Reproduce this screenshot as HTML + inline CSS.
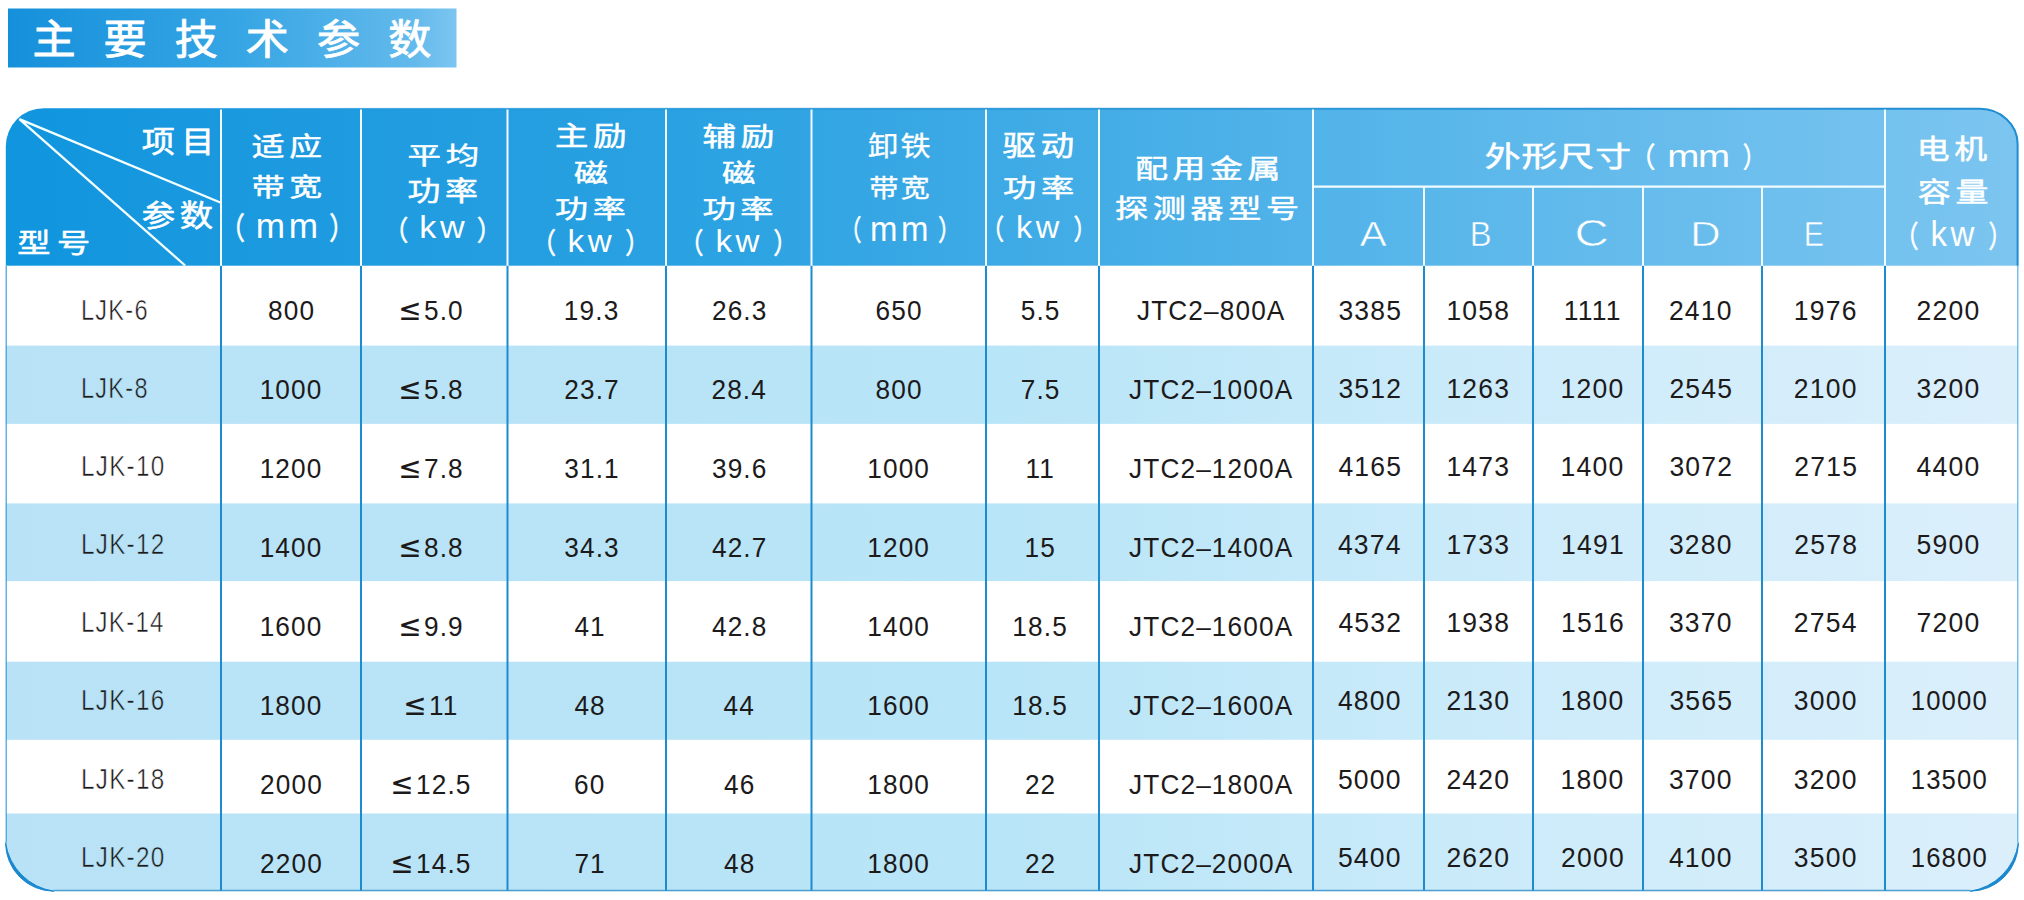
<!DOCTYPE html>
<html lang="zh-CN">
<head>
<meta charset="utf-8">
<title>主要技术参数</title>
<style>
html,body{margin:0;padding:0;background:#fff;}
body{width:2024px;height:900px;overflow:hidden;}
svg{display:block}
svg text{font-family:"Liberation Sans", "Noto Sans CJK SC", sans-serif;white-space:pre}
svg .le{font-family:"DejaVu Sans",sans-serif;font-size:30px;letter-spacing:2.6px}
</style>
</head>
<body>
<svg width="2024" height="900" viewBox="0 0 2024 900">
<defs>
<linearGradient id="hg" x1="0" y1="0" x2="1" y2="0">
<stop offset="0" stop-color="#0f95de"/>
<stop offset="0.12" stop-color="#1b99df"/>
<stop offset="0.35" stop-color="#2ba2e2"/>
<stop offset="0.7" stop-color="#58b6ea"/>
<stop offset="1" stop-color="#7cc5f0"/>
</linearGradient>
<linearGradient id="tg" x1="0" y1="0" x2="1" y2="0">
<stop offset="0" stop-color="#1590db"/>
<stop offset="0.5" stop-color="#35a5e4"/>
<stop offset="0.9" stop-color="#62b9eb"/>
<stop offset="1" stop-color="#7cc5f0"/>
</linearGradient>
<linearGradient id="sg" x1="0" y1="0" x2="1" y2="0">
<stop offset="0" stop-color="#b9e2f6"/>
<stop offset="0.5" stop-color="#b8e5f7"/>
<stop offset="0.65" stop-color="#c5e9f9"/>
<stop offset="0.8" stop-color="#d0ecfa"/>
<stop offset="1" stop-color="#dbeffb"/>
</linearGradient>
<clipPath id="tc"><path d="M5.8 265.7V146.2a38 38 0 0 1 38 -38H1980a38 35 0 0 1 38 35V842.8a48 48 0 0 1 -48 48.4H54a48 48 0 0 1 -48 -48.4Z"/></clipPath>
<linearGradient id="og" x1="0" y1="0" x2="1" y2="0">
<stop offset="0" stop-color="#1f8dd2" stop-opacity="0"/>
<stop offset="0.45" stop-color="#1f8dd2" stop-opacity="0.7"/>
<stop offset="1" stop-color="#1f8dd2" stop-opacity="1"/>
</linearGradient>
</defs>
<rect x="8" y="8.5" width="448.5" height="59" fill="url(#tg)"/>
<g clip-path="url(#tc)">
<rect x="0" y="100" width="2024" height="165.7" fill="url(#hg)"/>
<rect x="0" y="345.6" width="2024" height="78.3" fill="url(#sg)"/>
<rect x="0" y="503.4" width="2024" height="77.7" fill="url(#sg)"/>
<rect x="0" y="661.7" width="2024" height="78.1" fill="url(#sg)"/>
<rect x="0" y="813.5" width="2024" height="80" fill="url(#sg)"/>
</g>
<!-- outer outline -->
<path d="M44 108.8H1980a38 35 0 0 1 37.6 35V265.7" fill="none" stroke="url(#og)" stroke-width="2"/>
<path d="M2017.8 265.7V842.8" fill="none" stroke="#4aa8e0" stroke-width="1.1"/>
<path d="M6.2 265.7V842.8" fill="none" stroke="#3c9fdb" stroke-width="1.2"/>
<path d="M54 890.5H1970" fill="none" stroke="#4f9fd0" stroke-width="1.3"/>
<!-- corner crescents -->
<path d="M5.6 842.8a48.4 48.4 0 0 0 48.4 48.4a57 57 0 0 1 -48.4 -48.4Z" fill="#1b89cf" stroke="#1b89cf" stroke-width="1"/>
<path d="M2018.4 842.8a48.4 48.4 0 0 1 -48.4 48.4a57 57 0 0 0 48.4 -48.4Z" fill="#1b89cf" stroke="#1b89cf" stroke-width="1"/>
<g stroke="#1c8bcf" stroke-width="2" fill="none">
<path d="M221 265.7V890.5M361 265.7V890.5M507.5 265.7V890.5M666 265.7V890.5M811.5 265.7V890.5M986 265.7V890.5M1099 265.7V890.5M1313 265.7V890.5M1424 265.7V890.5M1533 265.7V890.5M1643 265.7V890.5M1762 265.7V890.5M1885 265.7V890.5"/>
</g>
<g stroke="#f2fcff" stroke-width="2" fill="none">
<path d="M221 109.4V265.7M361 109.4V265.7M507.5 109.4V265.7M666 109.4V265.7M811.5 109.4V265.7M986 109.4V265.7M1099 109.4V265.7M1313 109.4V265.7M1885 109.4V265.7"/>
<path d="M1424 186.6V265.7M1533 186.6V265.7M1643 186.6V265.7M1762 186.6V265.7"/>
<path d="M1313 186.6H1885" stroke-width="2.3"/>
<path d="M19.4 119.1L220.3 202.5M19.4 119.1L185.1 265.5" stroke="#f4ffff" stroke-width="2.3"/>
</g>

<g>
<text x="0" y="0" font-size="43" letter-spacing="28" fill="#fff" stroke="#fff" stroke-width="0.9" transform="matrix(1.0025 0 0 0.9548 32.39 53.83)">主要技术参数</text>
<text x="0" y="0" font-size="28" letter-spacing="5.4" fill="#fff" stroke="#fff" stroke-width="0.55" transform="matrix(1.1821 0 0 1.0615 141.72 152.22)">项目</text>
<text x="0" y="0" font-size="28" letter-spacing="4" fill="#fff" stroke="#fff" stroke-width="0.55" transform="matrix(1.1914 0 0 1.0536 141.71 225.54)">参数</text>
<text x="0" y="0" font-size="28" letter-spacing="5.4" fill="#fff" stroke="#fff" stroke-width="0.55" transform="matrix(1.1864 0 0 0.9741 17.31 252.68)">型号</text>
<text x="0" y="0" font-size="28" letter-spacing="4" fill="#fff" stroke="#fff" stroke-width="0.55" transform="matrix(1.1724 0 0 0.9143 251.73 155.56)">适应</text>
<text x="0" y="0" font-size="28" letter-spacing="4" fill="#fff" stroke="#fff" stroke-width="0.55" transform="matrix(1.1724 0 0 0.8786 251.73 196.26)">带宽</text>
<text x="0" y="0" font-size="28" fill="#fff" stroke="#fff" stroke-width="0.6" transform="matrix(0.8875 0 0 1.0852 220.04 239.33)">（</text>
<text x="0" y="0" font-size="28" letter-spacing="3" fill="#fff" transform="matrix(1.2565 0 0 1.2467 255.69 238.00)">mm</text>
<text x="0" y="0" font-size="28" fill="#fff" stroke="#fff" stroke-width="0.6" transform="matrix(0.8875 0 0 1.0852 329.31 239.33)">）</text>
<text x="0" y="0" font-size="28" letter-spacing="4" fill="#fff" stroke="#fff" stroke-width="0.55" transform="matrix(1.1947 0 0 0.8571 407.51 164.33)">平均</text>
<text x="0" y="0" font-size="28" letter-spacing="4" fill="#fff" stroke="#fff" stroke-width="0.55" transform="matrix(1.1741 0 0 0.9714 407.53 200.89)">功率</text>
<text x="0" y="0" font-size="28" fill="#fff" stroke="#fff" stroke-width="0.6" transform="matrix(0.8875 0 0 0.9852 383.54 239.53)">（</text>
<text x="0" y="0" font-size="28" letter-spacing="3" fill="#fff" transform="matrix(1.2200 0 0 1.1400 419.26 238.00)">kw</text>
<text x="0" y="0" font-size="28" fill="#fff" stroke="#fff" stroke-width="0.6" transform="matrix(0.8875 0 0 0.9852 476.81 239.53)">）</text>
<text x="0" y="0" font-size="28" letter-spacing="4" fill="#fff" stroke="#fff" stroke-width="0.55" transform="matrix(1.1930 0 0 0.9778 555.11 145.87)">主励</text>
<text x="0" y="0" font-size="28" fill="#fff" stroke="#fff" stroke-width="0.55" transform="matrix(1.2111 0 0 0.9074 574.00 182.49)">磁</text>
<text x="0" y="0" font-size="28" letter-spacing="4" fill="#fff" stroke="#fff" stroke-width="0.55" transform="matrix(1.1793 0 0 0.9036 555.12 217.89)">功率</text>
<text x="0" y="0" font-size="28" fill="#fff" stroke="#fff" stroke-width="0.6" transform="matrix(0.8750 0 0 1.0148 531.58 254.07)">（</text>
<text x="0" y="0" font-size="28" letter-spacing="3" fill="#fff" transform="matrix(1.1857 0 0 1.1300 567.53 252.30)">kw</text>
<text x="0" y="0" font-size="28" fill="#fff" stroke="#fff" stroke-width="0.6" transform="matrix(0.8750 0 0 1.0148 625.33 254.07)">）</text>
<text x="0" y="0" font-size="28" letter-spacing="4" fill="#fff" stroke="#fff" stroke-width="0.55" transform="matrix(1.2000 0 0 0.9429 702.40 145.97)">辅励</text>
<text x="0" y="0" font-size="28" fill="#fff" stroke="#fff" stroke-width="0.55" transform="matrix(1.1926 0 0 0.9074 721.90 182.49)">磁</text>
<text x="0" y="0" font-size="28" letter-spacing="4" fill="#fff" stroke="#fff" stroke-width="0.55" transform="matrix(1.1862 0 0 0.9036 702.41 217.89)">功率</text>
<text x="0" y="0" font-size="28" fill="#fff" stroke="#fff" stroke-width="0.6" transform="matrix(0.8750 0 0 1.0148 678.88 254.07)">（</text>
<text x="0" y="0" font-size="28" letter-spacing="3" fill="#fff" transform="matrix(1.1829 0 0 1.1300 715.43 252.30)">kw</text>
<text x="0" y="0" font-size="28" fill="#fff" stroke="#fff" stroke-width="0.6" transform="matrix(0.8750 0 0 1.0148 773.23 254.07)">）</text>
<text x="0" y="0" font-size="28" letter-spacing="2" fill="#fff" stroke="#fff" stroke-width="0.3" transform="matrix(1.0804 0 0 0.9786 868.12 155.86)">卸铁</text>
<text x="0" y="0" font-size="28" letter-spacing="2" fill="#fff" stroke="#fff" stroke-width="0.3" transform="matrix(1.0446 0 0 0.9107 869.16 196.67)">带宽</text>
<text x="0" y="0" font-size="28" fill="#fff" stroke="#fff" stroke-width="0.6" transform="matrix(0.7750 0 0 1.0148 839.77 240.87)">（</text>
<text x="0" y="0" font-size="28" letter-spacing="3" fill="#fff" transform="matrix(1.1761 0 0 1.2333 870.05 240.60)">mm</text>
<text x="0" y="0" font-size="28" fill="#fff" stroke="#fff" stroke-width="0.6" transform="matrix(0.8125 0 0 1.0148 937.89 240.87)">）</text>
<text x="0" y="0" font-size="28" letter-spacing="4" fill="#fff" stroke="#fff" stroke-width="0.55" transform="matrix(1.1931 0 0 1.0148 1002.51 155.76)">驱动</text>
<text x="0" y="0" font-size="28" letter-spacing="4" fill="#fff" stroke="#fff" stroke-width="0.55" transform="matrix(1.1879 0 0 0.9107 1003.11 196.67)">功率</text>
<text x="0" y="0" font-size="28" fill="#fff" stroke="#fff" stroke-width="0.6" transform="matrix(0.8250 0 0 0.9926 981.03 239.41)">（</text>
<text x="0" y="0" font-size="28" letter-spacing="3" fill="#fff" transform="matrix(1.1629 0 0 1.1350 1016.07 238.20)">kw</text>
<text x="0" y="0" font-size="28" fill="#fff" stroke="#fff" stroke-width="0.6" transform="matrix(0.8250 0 0 0.9926 1073.38 239.41)">）</text>
<text x="0" y="0" font-size="28" letter-spacing="4" fill="#fff" stroke="#fff" stroke-width="0.55" transform="matrix(1.1711 0 0 0.9214 1135.13 178.14)">配用金属</text>
<text x="0" y="0" font-size="28" letter-spacing="4" fill="#fff" stroke="#fff" stroke-width="0.55" transform="matrix(1.1810 0 0 0.9250 1114.92 217.82)">探测器型号</text>
<text x="0" y="0" font-size="28" letter-spacing="0.8" fill="#fff" stroke="#fff" stroke-width="0.55" transform="matrix(1.2795 0 0 1.0071 1484.72 167.18)">外形尺寸</text>
<text x="0" y="0" font-size="28" fill="#fff" stroke="#fff" stroke-width="0.6" transform="matrix(0.9250 0 0 1.0000 1629.52 167.50)">（</text>
<text x="0" y="0" font-size="28" letter-spacing="-1" fill="#fff" transform="matrix(1.3762 0 0 1.1333 1667.35 167.20)">mm</text>
<text x="0" y="0" font-size="28" fill="#fff" stroke="#fff" stroke-width="0.6" transform="matrix(0.8250 0 0 1.0000 1742.67 167.50)">）</text>
<text x="0" y="0" font-size="28" fill="#fff" stroke="#55b5ea" stroke-width="0.45" transform="matrix(1.4412 0 0 1.2632 1359.66 245.70)">A</text>
<text x="0" y="0" font-size="28" fill="#fff" stroke="#5cb8eb" stroke-width="0.45" transform="matrix(1.1714 0 0 1.2632 1469.79 245.70)">B</text>
<text x="0" y="0" font-size="28" fill="#fff" stroke="#62baec" stroke-width="0.45" transform="matrix(1.6937 0 0 1.3263 1574.51 246.40)">C</text>
<text x="0" y="0" font-size="28" fill="#fff" stroke="#69bded" stroke-width="0.45" transform="matrix(1.5000 0 0 1.2632 1690.20 245.70)">D</text>
<text x="0" y="0" font-size="28" fill="#fff" stroke="#70c0ee" stroke-width="0.45" transform="matrix(1.0857 0 0 1.2632 1803.64 245.70)">E</text>
<text x="0" y="0" font-size="28" letter-spacing="4" fill="#fff" stroke="#fff" stroke-width="0.55" transform="matrix(1.1754 0 0 0.9607 1916.77 158.82)">电机</text>
<text x="0" y="0" font-size="28" letter-spacing="4" fill="#fff" stroke="#fff" stroke-width="0.55" transform="matrix(1.1776 0 0 0.9643 1917.82 201.81)">容量</text>
<text x="0" y="0" font-size="28" fill="#fff" stroke="#fff" stroke-width="0.6" transform="matrix(0.8375 0 0 1.0630 1894.89 246.77)">（</text>
<text x="0" y="0" font-size="28" letter-spacing="3" fill="#fff" transform="matrix(1.1771 0 0 1.2250 1930.55 245.70)">kw</text>
<text x="0" y="0" font-size="28" fill="#fff" stroke="#fff" stroke-width="0.6" transform="matrix(0.8250 0 0 1.0630 1988.38 246.77)">）</text>
<text x="0" y="0" font-size="28.2" letter-spacing="1.5" fill="#1c1a1b" stroke="#ffffff" stroke-width="0.5" transform="matrix(0.8347 0 0 1.0316 81.00 319.70)">LJK-6</text>
<text x="0" y="0" font-size="28.2" letter-spacing="1.2" fill="#1c1a1b" transform="matrix(0.9300 0 0 1.0000 268.01 319.80)">800</text>
<text x="0" y="0" font-size="28.2" letter-spacing="1.2" fill="#1c1a1b" transform="matrix(0.9300 0 0 1.0000 398.19 319.80)"><tspan class="le">≤</tspan>5.0</text>
<text x="0" y="0" font-size="28.2" letter-spacing="1.2" fill="#1c1a1b" transform="matrix(0.9300 0 0 1.0000 563.87 319.80)">19.3</text>
<text x="0" y="0" font-size="28.2" letter-spacing="1.2" fill="#1c1a1b" transform="matrix(0.9300 0 0 1.0000 711.93 319.80)">26.3</text>
<text x="0" y="0" font-size="28.2" letter-spacing="1.2" fill="#1c1a1b" transform="matrix(0.9300 0 0 1.0000 875.62 319.80)">650</text>
<text x="0" y="0" font-size="28.2" letter-spacing="1.2" fill="#1c1a1b" transform="matrix(0.9300 0 0 1.0000 1020.73 319.80)">5.5</text>
<text x="0" y="0" font-size="28.2" letter-spacing="1.2" fill="#1c1a1b" transform="matrix(0.9300 0 0 1.0000 1136.97 319.80)">JTC2–800A</text>
<text x="0" y="0" font-size="28.2" letter-spacing="1.3" fill="#1c1a1b" transform="matrix(0.9400 0 0 1.0000 1338.38 319.60)">3385</text>
<text x="0" y="0" font-size="28.2" letter-spacing="1.3" fill="#1c1a1b" transform="matrix(0.9400 0 0 1.0000 1446.41 319.60)">1058</text>
<text x="0" y="0" font-size="28.2" letter-spacing="1.3" fill="#1c1a1b" transform="matrix(0.9400 0 0 1.0000 1563.83 319.60)">1111</text>
<text x="0" y="0" font-size="28.2" letter-spacing="1.3" fill="#1c1a1b" transform="matrix(0.9400 0 0 1.0000 1668.91 319.60)">2410</text>
<text x="0" y="0" font-size="28.2" letter-spacing="1.3" fill="#1c1a1b" transform="matrix(0.9400 0 0 1.0000 1793.81 319.60)">1976</text>
<text x="0" y="0" font-size="28.2" letter-spacing="1.3" fill="#1c1a1b" transform="matrix(0.9400 0 0 1.0000 1916.51 319.60)">2200</text>
<text x="0" y="0" font-size="28.2" letter-spacing="1.5" fill="#1c1a1b" stroke="#b9e3f7" stroke-width="0.5" transform="matrix(0.8347 0 0 1.0316 81.00 397.85)">LJK-8</text>
<text x="0" y="0" font-size="28.2" letter-spacing="1.2" fill="#1c1a1b" transform="matrix(0.9300 0 0 1.0000 259.64 398.80)">1000</text>
<text x="0" y="0" font-size="28.2" letter-spacing="1.2" fill="#1c1a1b" transform="matrix(0.9300 0 0 1.0000 398.19 398.80)"><tspan class="le">≤</tspan>5.8</text>
<text x="0" y="0" font-size="28.2" letter-spacing="1.2" fill="#1c1a1b" transform="matrix(0.9300 0 0 1.0000 564.33 398.80)">23.7</text>
<text x="0" y="0" font-size="28.2" letter-spacing="1.2" fill="#1c1a1b" transform="matrix(0.9300 0 0 1.0000 711.46 398.80)">28.4</text>
<text x="0" y="0" font-size="28.2" letter-spacing="1.2" fill="#1c1a1b" transform="matrix(0.9300 0 0 1.0000 875.62 398.80)">800</text>
<text x="0" y="0" font-size="28.2" letter-spacing="1.2" fill="#1c1a1b" transform="matrix(0.9300 0 0 1.0000 1020.73 398.80)">7.5</text>
<text x="0" y="0" font-size="28.2" letter-spacing="1.2" fill="#1c1a1b" transform="matrix(0.9300 0 0 1.0000 1129.06 398.80)">JTC2–1000A</text>
<text x="0" y="0" font-size="28.2" letter-spacing="1.3" fill="#1c1a1b" transform="matrix(0.9400 0 0 1.0000 1338.38 397.75)">3512</text>
<text x="0" y="0" font-size="28.2" letter-spacing="1.3" fill="#1c1a1b" transform="matrix(0.9400 0 0 1.0000 1446.41 397.75)">1263</text>
<text x="0" y="0" font-size="28.2" letter-spacing="1.3" fill="#1c1a1b" transform="matrix(0.9400 0 0 1.0000 1560.54 397.75)">1200</text>
<text x="0" y="0" font-size="28.2" letter-spacing="1.3" fill="#1c1a1b" transform="matrix(0.9400 0 0 1.0000 1669.38 397.75)">2545</text>
<text x="0" y="0" font-size="28.2" letter-spacing="1.3" fill="#1c1a1b" transform="matrix(0.9400 0 0 1.0000 1793.81 397.75)">2100</text>
<text x="0" y="0" font-size="28.2" letter-spacing="1.3" fill="#1c1a1b" transform="matrix(0.9400 0 0 1.0000 1916.51 397.75)">3200</text>
<text x="0" y="0" font-size="28.2" letter-spacing="1.5" fill="#1c1a1b" stroke="#ffffff" stroke-width="0.5" transform="matrix(0.8609 0 0 1.0316 80.92 476.00)">LJK-10</text>
<text x="0" y="0" font-size="28.2" letter-spacing="1.2" fill="#1c1a1b" transform="matrix(0.9300 0 0 1.0000 259.64 477.80)">1200</text>
<text x="0" y="0" font-size="28.2" letter-spacing="1.2" fill="#1c1a1b" transform="matrix(0.9300 0 0 1.0000 398.19 477.80)"><tspan class="le">≤</tspan>7.8</text>
<text x="0" y="0" font-size="28.2" letter-spacing="1.2" fill="#1c1a1b" transform="matrix(0.9300 0 0 1.0000 564.33 477.80)">31.1</text>
<text x="0" y="0" font-size="28.2" letter-spacing="1.2" fill="#1c1a1b" transform="matrix(0.9300 0 0 1.0000 711.93 477.80)">39.6</text>
<text x="0" y="0" font-size="28.2" letter-spacing="1.2" fill="#1c1a1b" transform="matrix(0.9300 0 0 1.0000 867.25 477.80)">1000</text>
<text x="0" y="0" font-size="28.2" letter-spacing="1.2" fill="#1c1a1b" transform="matrix(0.9300 0 0 1.0000 1025.38 477.80)">11</text>
<text x="0" y="0" font-size="28.2" letter-spacing="1.2" fill="#1c1a1b" transform="matrix(0.9300 0 0 1.0000 1129.06 477.80)">JTC2–1200A</text>
<text x="0" y="0" font-size="28.2" letter-spacing="1.3" fill="#1c1a1b" transform="matrix(0.9400 0 0 1.0000 1338.38 475.90)">4165</text>
<text x="0" y="0" font-size="28.2" letter-spacing="1.3" fill="#1c1a1b" transform="matrix(0.9400 0 0 1.0000 1446.41 475.90)">1473</text>
<text x="0" y="0" font-size="28.2" letter-spacing="1.3" fill="#1c1a1b" transform="matrix(0.9400 0 0 1.0000 1560.54 475.90)">1400</text>
<text x="0" y="0" font-size="28.2" letter-spacing="1.3" fill="#1c1a1b" transform="matrix(0.9400 0 0 1.0000 1669.38 475.90)">3072</text>
<text x="0" y="0" font-size="28.2" letter-spacing="1.3" fill="#1c1a1b" transform="matrix(0.9400 0 0 1.0000 1794.28 475.90)">2715</text>
<text x="0" y="0" font-size="28.2" letter-spacing="1.3" fill="#1c1a1b" transform="matrix(0.9400 0 0 1.0000 1916.51 475.90)">4400</text>
<text x="0" y="0" font-size="28.2" letter-spacing="1.5" fill="#1c1a1b" stroke="#b9e3f7" stroke-width="0.5" transform="matrix(0.8609 0 0 1.0316 80.92 554.15)">LJK-12</text>
<text x="0" y="0" font-size="28.2" letter-spacing="1.2" fill="#1c1a1b" transform="matrix(0.9300 0 0 1.0000 259.64 556.80)">1400</text>
<text x="0" y="0" font-size="28.2" letter-spacing="1.2" fill="#1c1a1b" transform="matrix(0.9300 0 0 1.0000 398.19 556.80)"><tspan class="le">≤</tspan>8.8</text>
<text x="0" y="0" font-size="28.2" letter-spacing="1.2" fill="#1c1a1b" transform="matrix(0.9300 0 0 1.0000 564.33 556.80)">34.3</text>
<text x="0" y="0" font-size="28.2" letter-spacing="1.2" fill="#1c1a1b" transform="matrix(0.9300 0 0 1.0000 711.93 556.80)">42.7</text>
<text x="0" y="0" font-size="28.2" letter-spacing="1.2" fill="#1c1a1b" transform="matrix(0.9300 0 0 1.0000 867.25 556.80)">1200</text>
<text x="0" y="0" font-size="28.2" letter-spacing="1.2" fill="#1c1a1b" transform="matrix(0.9300 0 0 1.0000 1024.45 556.80)">15</text>
<text x="0" y="0" font-size="28.2" letter-spacing="1.2" fill="#1c1a1b" transform="matrix(0.9300 0 0 1.0000 1129.06 556.80)">JTC2–1400A</text>
<text x="0" y="0" font-size="28.2" letter-spacing="1.3" fill="#1c1a1b" transform="matrix(0.9400 0 0 1.0000 1337.91 554.05)">4374</text>
<text x="0" y="0" font-size="28.2" letter-spacing="1.3" fill="#1c1a1b" transform="matrix(0.9400 0 0 1.0000 1446.41 554.05)">1733</text>
<text x="0" y="0" font-size="28.2" letter-spacing="1.3" fill="#1c1a1b" transform="matrix(0.9400 0 0 1.0000 1561.01 554.05)">1491</text>
<text x="0" y="0" font-size="28.2" letter-spacing="1.3" fill="#1c1a1b" transform="matrix(0.9400 0 0 1.0000 1668.91 554.05)">3280</text>
<text x="0" y="0" font-size="28.2" letter-spacing="1.3" fill="#1c1a1b" transform="matrix(0.9400 0 0 1.0000 1794.28 554.05)">2578</text>
<text x="0" y="0" font-size="28.2" letter-spacing="1.3" fill="#1c1a1b" transform="matrix(0.9400 0 0 1.0000 1916.51 554.05)">5900</text>
<text x="0" y="0" font-size="28.2" letter-spacing="1.5" fill="#1c1a1b" stroke="#ffffff" stroke-width="0.5" transform="matrix(0.8516 0 0 1.0316 80.95 632.30)">LJK-14</text>
<text x="0" y="0" font-size="28.2" letter-spacing="1.2" fill="#1c1a1b" transform="matrix(0.9300 0 0 1.0000 259.64 635.80)">1600</text>
<text x="0" y="0" font-size="28.2" letter-spacing="1.2" fill="#1c1a1b" transform="matrix(0.9300 0 0 1.0000 398.19 635.80)"><tspan class="le">≤</tspan>9.9</text>
<text x="0" y="0" font-size="28.2" letter-spacing="1.2" fill="#1c1a1b" transform="matrix(0.9300 0 0 1.0000 574.42 635.80)">41</text>
<text x="0" y="0" font-size="28.2" letter-spacing="1.2" fill="#1c1a1b" transform="matrix(0.9300 0 0 1.0000 711.93 635.80)">42.8</text>
<text x="0" y="0" font-size="28.2" letter-spacing="1.2" fill="#1c1a1b" transform="matrix(0.9300 0 0 1.0000 867.25 635.80)">1400</text>
<text x="0" y="0" font-size="28.2" letter-spacing="1.2" fill="#1c1a1b" transform="matrix(0.9300 0 0 1.0000 1012.37 635.80)">18.5</text>
<text x="0" y="0" font-size="28.2" letter-spacing="1.2" fill="#1c1a1b" transform="matrix(0.9300 0 0 1.0000 1129.06 635.80)">JTC2–1600A</text>
<text x="0" y="0" font-size="28.2" letter-spacing="1.3" fill="#1c1a1b" transform="matrix(0.9400 0 0 1.0000 1338.38 632.20)">4532</text>
<text x="0" y="0" font-size="28.2" letter-spacing="1.3" fill="#1c1a1b" transform="matrix(0.9400 0 0 1.0000 1446.41 632.20)">1938</text>
<text x="0" y="0" font-size="28.2" letter-spacing="1.3" fill="#1c1a1b" transform="matrix(0.9400 0 0 1.0000 1561.01 632.20)">1516</text>
<text x="0" y="0" font-size="28.2" letter-spacing="1.3" fill="#1c1a1b" transform="matrix(0.9400 0 0 1.0000 1668.91 632.20)">3370</text>
<text x="0" y="0" font-size="28.2" letter-spacing="1.3" fill="#1c1a1b" transform="matrix(0.9400 0 0 1.0000 1793.81 632.20)">2754</text>
<text x="0" y="0" font-size="28.2" letter-spacing="1.3" fill="#1c1a1b" transform="matrix(0.9400 0 0 1.0000 1916.51 632.20)">7200</text>
<text x="0" y="0" font-size="28.2" letter-spacing="1.5" fill="#1c1a1b" stroke="#b9e3f7" stroke-width="0.5" transform="matrix(0.8609 0 0 1.0316 80.92 710.45)">LJK-16</text>
<text x="0" y="0" font-size="28.2" letter-spacing="1.2" fill="#1c1a1b" transform="matrix(0.9300 0 0 1.0000 259.64 714.80)">1800</text>
<text x="0" y="0" font-size="28.2" letter-spacing="1.2" fill="#1c1a1b" transform="matrix(0.9300 0 0 1.0000 403.30 714.80)"><tspan class="le">≤</tspan>11</text>
<text x="0" y="0" font-size="28.2" letter-spacing="1.2" fill="#1c1a1b" transform="matrix(0.9300 0 0 1.0000 574.42 714.80)">48</text>
<text x="0" y="0" font-size="28.2" letter-spacing="1.2" fill="#1c1a1b" transform="matrix(0.9300 0 0 1.0000 723.55 714.80)">44</text>
<text x="0" y="0" font-size="28.2" letter-spacing="1.2" fill="#1c1a1b" transform="matrix(0.9300 0 0 1.0000 867.25 714.80)">1600</text>
<text x="0" y="0" font-size="28.2" letter-spacing="1.2" fill="#1c1a1b" transform="matrix(0.9300 0 0 1.0000 1012.37 714.80)">18.5</text>
<text x="0" y="0" font-size="28.2" letter-spacing="1.2" fill="#1c1a1b" transform="matrix(0.9300 0 0 1.0000 1129.06 714.80)">JTC2–1600A</text>
<text x="0" y="0" font-size="28.2" letter-spacing="1.3" fill="#1c1a1b" transform="matrix(0.9400 0 0 1.0000 1337.91 710.35)">4800</text>
<text x="0" y="0" font-size="28.2" letter-spacing="1.3" fill="#1c1a1b" transform="matrix(0.9400 0 0 1.0000 1446.41 710.35)">2130</text>
<text x="0" y="0" font-size="28.2" letter-spacing="1.3" fill="#1c1a1b" transform="matrix(0.9400 0 0 1.0000 1560.54 710.35)">1800</text>
<text x="0" y="0" font-size="28.2" letter-spacing="1.3" fill="#1c1a1b" transform="matrix(0.9400 0 0 1.0000 1669.38 710.35)">3565</text>
<text x="0" y="0" font-size="28.2" letter-spacing="1.3" fill="#1c1a1b" transform="matrix(0.9400 0 0 1.0000 1793.81 710.35)">3000</text>
<text x="0" y="0" font-size="28.2" letter-spacing="1.3" fill="#1c1a1b" transform="matrix(0.9111 0 0 1.0000 1910.68 710.35)">10000</text>
<text x="0" y="0" font-size="28.2" letter-spacing="1.5" fill="#1c1a1b" stroke="#ffffff" stroke-width="0.5" transform="matrix(0.8609 0 0 1.0316 80.92 788.60)">LJK-18</text>
<text x="0" y="0" font-size="28.2" letter-spacing="1.2" fill="#1c1a1b" transform="matrix(0.9300 0 0 1.0000 260.11 793.80)">2000</text>
<text x="0" y="0" font-size="28.2" letter-spacing="1.2" fill="#1c1a1b" transform="matrix(0.9300 0 0 1.0000 390.28 793.80)"><tspan class="le">≤</tspan>12.5</text>
<text x="0" y="0" font-size="28.2" letter-spacing="1.2" fill="#1c1a1b" transform="matrix(0.9300 0 0 1.0000 573.95 793.80)">60</text>
<text x="0" y="0" font-size="28.2" letter-spacing="1.2" fill="#1c1a1b" transform="matrix(0.9300 0 0 1.0000 724.02 793.80)">46</text>
<text x="0" y="0" font-size="28.2" letter-spacing="1.2" fill="#1c1a1b" transform="matrix(0.9300 0 0 1.0000 867.25 793.80)">1800</text>
<text x="0" y="0" font-size="28.2" letter-spacing="1.2" fill="#1c1a1b" transform="matrix(0.9300 0 0 1.0000 1024.92 793.80)">22</text>
<text x="0" y="0" font-size="28.2" letter-spacing="1.2" fill="#1c1a1b" transform="matrix(0.9300 0 0 1.0000 1129.06 793.80)">JTC2–1800A</text>
<text x="0" y="0" font-size="28.2" letter-spacing="1.3" fill="#1c1a1b" transform="matrix(0.9400 0 0 1.0000 1337.91 788.50)">5000</text>
<text x="0" y="0" font-size="28.2" letter-spacing="1.3" fill="#1c1a1b" transform="matrix(0.9400 0 0 1.0000 1446.41 788.50)">2420</text>
<text x="0" y="0" font-size="28.2" letter-spacing="1.3" fill="#1c1a1b" transform="matrix(0.9400 0 0 1.0000 1560.54 788.50)">1800</text>
<text x="0" y="0" font-size="28.2" letter-spacing="1.3" fill="#1c1a1b" transform="matrix(0.9400 0 0 1.0000 1668.91 788.50)">3700</text>
<text x="0" y="0" font-size="28.2" letter-spacing="1.3" fill="#1c1a1b" transform="matrix(0.9400 0 0 1.0000 1793.81 788.50)">3200</text>
<text x="0" y="0" font-size="28.2" letter-spacing="1.3" fill="#1c1a1b" transform="matrix(0.9111 0 0 1.0000 1910.68 788.50)">13500</text>
<text x="0" y="0" font-size="28.2" letter-spacing="1.5" fill="#1c1a1b" stroke="#b9e3f7" stroke-width="0.5" transform="matrix(0.8609 0 0 1.0316 80.92 866.75)">LJK-20</text>
<text x="0" y="0" font-size="28.2" letter-spacing="1.2" fill="#1c1a1b" transform="matrix(0.9300 0 0 1.0000 260.11 872.80)">2200</text>
<text x="0" y="0" font-size="28.2" letter-spacing="1.2" fill="#1c1a1b" transform="matrix(0.9300 0 0 1.0000 390.28 872.80)"><tspan class="le">≤</tspan>14.5</text>
<text x="0" y="0" font-size="28.2" letter-spacing="1.2" fill="#1c1a1b" transform="matrix(0.9300 0 0 1.0000 574.42 872.80)">71</text>
<text x="0" y="0" font-size="28.2" letter-spacing="1.2" fill="#1c1a1b" transform="matrix(0.9300 0 0 1.0000 724.02 872.80)">48</text>
<text x="0" y="0" font-size="28.2" letter-spacing="1.2" fill="#1c1a1b" transform="matrix(0.9300 0 0 1.0000 867.25 872.80)">1800</text>
<text x="0" y="0" font-size="28.2" letter-spacing="1.2" fill="#1c1a1b" transform="matrix(0.9300 0 0 1.0000 1024.92 872.80)">22</text>
<text x="0" y="0" font-size="28.2" letter-spacing="1.2" fill="#1c1a1b" transform="matrix(0.9300 0 0 1.0000 1129.06 872.80)">JTC2–2000A</text>
<text x="0" y="0" font-size="28.2" letter-spacing="1.3" fill="#1c1a1b" transform="matrix(0.9400 0 0 1.0000 1337.91 866.65)">5400</text>
<text x="0" y="0" font-size="28.2" letter-spacing="1.3" fill="#1c1a1b" transform="matrix(0.9400 0 0 1.0000 1446.41 866.65)">2620</text>
<text x="0" y="0" font-size="28.2" letter-spacing="1.3" fill="#1c1a1b" transform="matrix(0.9400 0 0 1.0000 1561.01 866.65)">2000</text>
<text x="0" y="0" font-size="28.2" letter-spacing="1.3" fill="#1c1a1b" transform="matrix(0.9400 0 0 1.0000 1668.91 866.65)">4100</text>
<text x="0" y="0" font-size="28.2" letter-spacing="1.3" fill="#1c1a1b" transform="matrix(0.9400 0 0 1.0000 1793.81 866.65)">3500</text>
<text x="0" y="0" font-size="28.2" letter-spacing="1.3" fill="#1c1a1b" transform="matrix(0.9111 0 0 1.0000 1910.68 866.65)">16800</text>
</g>
</svg>
</body>
</html>
